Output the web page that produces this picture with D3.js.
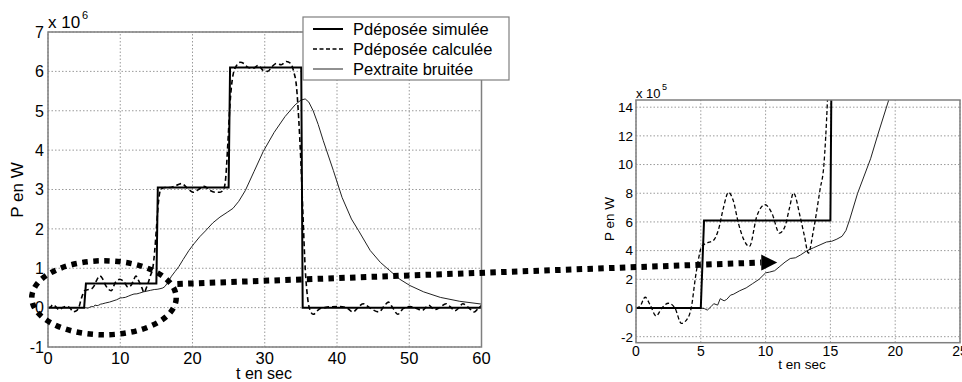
<!DOCTYPE html>
<html>
<head>
<meta charset="utf-8">
<script src="https://cdn.jsdelivr.net/npm/d3@7"></script>
<style>
  body { margin: 0; background: #fff; }
  svg { display: block; font-family: Arial, "Liberation Sans", sans-serif; }
</style>
</head>
<body>
<svg id="chart" width="962" height="382"></svg>
<script>
// time in s, power in MW (1e6 W)
const simT = [0, 5, 5.25, 15, 15.2, 25, 25.2, 35.05, 35.25, 60];
const simP = [0, 0, 0.61, 0.61, 3.05, 3.05, 6.1, 6.1, 0, 0];

const calcT = [0, 0.3, 0.7, 1.1, 1.55, 2.0, 2.5, 3.0, 3.5, 4.05, 4.3, 4.56, 4.8, 5.07, 5.46, 5.97, 6.36, 6.75, 7.13, 7.5,
  7.9, 8.3, 8.75, 9.32, 9.96, 10.48, 11.07, 11.5, 11.85, 12.15, 12.66, 13.0, 13.3, 13.7, 14.2, 14.5, 14.77, 15.0, 15.3, 15.6,
  16.2, 16.9, 17.7, 18.5, 19.2, 20.1, 21.0, 21.6, 22.4, 23.2, 23.8, 24.3, 24.6, 24.9, 25.2, 25.6, 26.1, 26.6, 27.1, 27.7,
  28.4, 29.1, 29.8, 30.4, 31.0, 31.6, 32.3, 33.0, 33.6, 34.0, 34.4, 34.7, 35.0, 35.3, 35.6, 35.9, 36.3, 36.7, 37.6, 38.3,
  39.0, 40.4, 41.3, 42.2, 42.9, 43.6, 44.5, 45.8, 46.5, 47.1, 47.7, 48.4, 49.2, 50.1, 51.0, 51.8, 52.7, 53.5, 54.2, 55.1,
  55.7, 56.3, 56.9, 57.4, 58.2, 59.0, 59.5, 60];
const calcP = [0, 0.01, 0.075, 0.02, -0.056, 0.0, 0.033, 0.0, -0.107, -0.062, 0.02, 0.196, 0.33, 0.429, 0.452, 0.471, 0.545, 0.70, 0.806, 0.75,
  0.592, 0.48, 0.429, 0.639, 0.72, 0.662, 0.522, 0.57, 0.70, 0.802, 0.639, 0.50, 0.382, 0.545, 0.825, 1.0, 1.44, 2.0, 2.7, 3.0,
  3.05, 3.05, 3.1, 3.15, 3.05, 2.93, 3.02, 3.08, 2.98, 2.93, 2.93, 3.0, 3.3, 4.2, 5.2, 5.9, 6.15, 6.23, 6.2, 6.1,
  6.08, 6.15, 6.02, 6.0, 6.12, 6.2, 6.17, 6.25, 6.2, 6.0, 5.6, 4.8, 3.7, 2.3, 1.0, 0.3, -0.08, -0.17, -0.03, 0.0,
  0.02, 0.03, 0.0, -0.11, 0.0, 0.1, 0.0, -0.11, 0.03, 0.14, 0.0, -0.17, -0.02, 0.03, -0.02, -0.07, 0.06, -0.05, 0.0, 0.1,
  0.02, -0.08, 0.0, 0.1, 0.0, -0.11, -0.03, 0.06];

const extT = [0, 5, 5.3, 5.5, 5.8, 6.0, 6.3, 6.5, 6.8, 7.0, 7.3, 7.5, 8.0, 8.5, 9.0, 9.5, 10.0, 10.3, 10.7, 11.1,
  11.5, 11.9, 12.3, 12.7, 13.2, 13.7, 14.2, 14.7, 15.1, 15.5, 15.9, 16.2, 16.5, 17.1, 17.6, 18.1, 18.7, 19.5, 20.2, 21.0,
  21.8, 22.8, 23.8, 24.8, 25.6, 26.4, 27.3, 28.5, 29.8, 31.3, 32.8, 34.2, 35.0, 35.6, 36.1, 36.7, 37.4, 38.1, 39.5, 40.7,
  42.0, 43.0, 44.6, 46.0, 47.3, 48.7, 50.1, 52.0, 54.3, 57.0, 60];
const extP = [0, 0, -0.005, -0.015, 0.01, 0.03, 0.02, 0.065, 0.05, 0.06, 0.09, 0.095, 0.12, 0.14, 0.17, 0.2, 0.245, 0.25, 0.26, 0.29,
  0.32, 0.345, 0.35, 0.37, 0.40, 0.42, 0.44, 0.46, 0.465, 0.48, 0.5, 0.54, 0.62, 0.80, 0.92, 1.04, 1.22, 1.45, 1.62, 1.8,
  1.95, 2.15, 2.3, 2.42, 2.52, 2.7, 2.97, 3.45, 3.97, 4.45, 4.85, 5.15, 5.27, 5.3, 5.22, 5.0, 4.65, 4.24, 3.48, 2.8,
  2.25, 1.95, 1.45, 1.15, 0.94, 0.72, 0.56, 0.4, 0.26, 0.16, 0.09];

const mainXTicks = [0, 10, 20, 30, 40, 50, 60];
const mainYTicks = [-1, 0, 1, 2, 3, 4, 5, 6, 7];
const zoomXTicks = [0, 5, 10, 15, 20, 25];
const zoomYTicks = [-2, 0, 2, 4, 6, 8, 10, 12, 14];
const legendLabels = ["Pdéposée simulée", "Pdéposée calculée", "Pextraite bruitée"];

const svg = d3.select("#chart");
const gridColor = "#9a9a9a";
const boxColor = "#7f7f7f";

const simData = d3.zip(simT, simP);
const calcData = d3.zip(calcT, calcP);
const extData = d3.zip(extT, extP);

// one panel = scales + grid + box + curves
function drawPanel(opt) {
  const { x, y, xTicks, yTicks, id, unit, fs, lw } = opt;
  const g = svg.append("g");
  const [x0, x1] = x.range();
  const [y0, y1] = y.range();

  g.append("clipPath").attr("id", id)
    .append("rect").attr("x", x0).attr("y", y1).attr("width", x1 - x0).attr("height", y0 - y1);

  // dotted grid
  g.selectAll(".gx").data(xTicks).join("line")
    .attr("x1", d => x(d)).attr("x2", d => x(d))
    .attr("y1", y0).attr("y2", y1)
    .attr("stroke", gridColor).attr("stroke-width", 1).attr("stroke-dasharray", "1.5,2");
  g.selectAll(".gy").data(yTicks).join("line")
    .attr("x1", x0).attr("x2", x1)
    .attr("y1", d => y(d)).attr("y2", d => y(d))
    .attr("stroke", gridColor).attr("stroke-width", 1).attr("stroke-dasharray", "1.5,2");

  const plot = g.append("g").attr("clip-path", `url(#${id})`);
  const line = d3.line().x(d => x(d[0])).y(d => y(d[1] * unit));
  const smooth = d3.line().x(d => x(d[0])).y(d => y(d[1] * unit)).curve(d3.curveMonotoneX);

  plot.append("path").datum(extData).attr("d", line)
    .attr("fill", "none").attr("stroke", "#222").attr("stroke-width", 1);
  plot.append("path").datum(simData).attr("d", line)
    .attr("fill", "none").attr("stroke", "#000").attr("stroke-width", lw[0]);
  plot.append("path").datum(calcData).attr("d", smooth)
    .attr("fill", "none").attr("stroke", "#000").attr("stroke-width", lw[1])
    .attr("stroke-dasharray", lw[2]);

  g.append("rect").attr("x", x0).attr("y", y1).attr("width", x1 - x0).attr("height", y0 - y1)
    .attr("fill", "none").attr("stroke", boxColor).attr("stroke-width", 1.5);

  // tick labels
  g.selectAll(".tx").data(xTicks).join("text")
    .attr("x", d => x(d)).attr("y", y0 + opt.xLabDy)
    .attr("text-anchor", "middle").attr("font-size", opt.fsx).text(d => d);
  g.selectAll(".ty").data(yTicks).join("text")
    .attr("x", x0 - opt.yLabDx).attr("y", d => y(d)).attr("dy", "0.36em")
    .attr("text-anchor", "end").attr("font-size", fs).text(d => d);
  return g;
}

// main panel
const mx = d3.scaleLinear().domain([0, 60]).range([48, 481.5]);
const my = d3.scaleLinear().domain([-1, 7]).range([347, 32]);
const mainG = drawPanel({ x: mx, y: my, xTicks: mainXTicks, yTicks: mainYTicks, id: "clipMain",
  unit: 1, fs: 16, fsx: 16.5, lw: [2, 1.6, "5,3"], xLabDy: 17, yLabDx: 4 });

mainG.append("text").attr("x", 48).attr("y", 28).attr("font-size", 17).text("x 10");
mainG.append("text").attr("x", 82).attr("y", 19).attr("font-size", 11).text("6");
mainG.append("text").attr("x", 264).attr("y", 379).attr("text-anchor", "middle")
  .attr("font-size", 16).text("t en sec");
mainG.append("text").attr("transform", "translate(23,190) rotate(-90)")
  .attr("text-anchor", "middle").attr("font-size", 17).text("P en W");

// legend
const legend = svg.append("g");
legend.append("rect").attr("x", 303).attr("y", 17).attr("width", 206).attr("height", 63)
  .attr("fill", "#fff").attr("stroke", boxColor).attr("stroke-width", 1.2);
const legStyles = [
  { w: 2, dash: null, c: "#000" },
  { w: 1.6, dash: "4,2.5", c: "#000" },
  { w: 1, dash: null, c: "#222" }
];
legendLabels.forEach((lab, i) => {
  const yy = 29 + i * 20;
  legend.append("line").attr("x1", 313).attr("x2", 343).attr("y1", yy).attr("y2", yy)
    .attr("stroke", legStyles[i].c).attr("stroke-width", legStyles[i].w)
    .attr("stroke-dasharray", legStyles[i].dash);
  legend.append("text").attr("x", 353).attr("y", yy).attr("dy", "0.36em")
    .attr("font-size", 16.5).text(lab);
});

// zoomed panel (x 1e5 W)
const zx = d3.scaleLinear().domain([0, 25]).range([636, 960]);
const zy = d3.scaleLinear().domain([-2.42, 14.5]).range([342.7, 100]);
const zoomG = drawPanel({ x: zx, y: zy, xTicks: zoomXTicks, yTicks: zoomYTicks, id: "clipZoom",
  unit: 10, fs: 13.5, fsx: 14, lw: [2, 1.3, "4,2.5"], xLabDy: 13, yLabDx: 3 });

zoomG.append("text").attr("x", 636).attr("y", 98).attr("font-size", 13).text("x 10");
zoomG.append("text").attr("x", 662).attr("y", 90).attr("font-size", 9).text("5");
zoomG.append("text").attr("x", 802).attr("y", 369).attr("text-anchor", "middle")
  .attr("font-size", 13.5).text("t en sec");
zoomG.append("text").attr("transform", "translate(614,219) rotate(-90)")
  .attr("text-anchor", "middle").attr("font-size", 13.5).text("P en W");

// annotation: dotted ellipse + dotted arrow toward the zoom
const ann = svg.append("g");
ann.append("ellipse")
  .attr("cx", mx(7.75)).attr("cy", my(0.25))
  .attr("rx", mx(17.75) - mx(7.75)).attr("ry", my(0) - my(0.94))
  .attr("fill", "none").attr("stroke", "#000").attr("stroke-width", 5.5)
  .attr("stroke-dasharray", "5.5,5.5");

const a0 = [mx(17.9), my(0.6)];
const tip = [zx(10.9), zy(3.17)];
ann.append("line")
  .attr("x1", a0[0]).attr("y1", a0[1]).attr("x2", tip[0] - 16).attr("y2", tip[1])
  .attr("stroke", "#000").attr("stroke-width", 6).attr("stroke-dasharray", "5.5,5.3");
ann.append("path")
  .attr("d", `M${tip[0]},${tip[1]} L${tip[0] - 16},${tip[1] - 8} L${tip[0] - 16},${tip[1] + 8} Z`)
  .attr("fill", "#000");
</script>
</body>
</html>
